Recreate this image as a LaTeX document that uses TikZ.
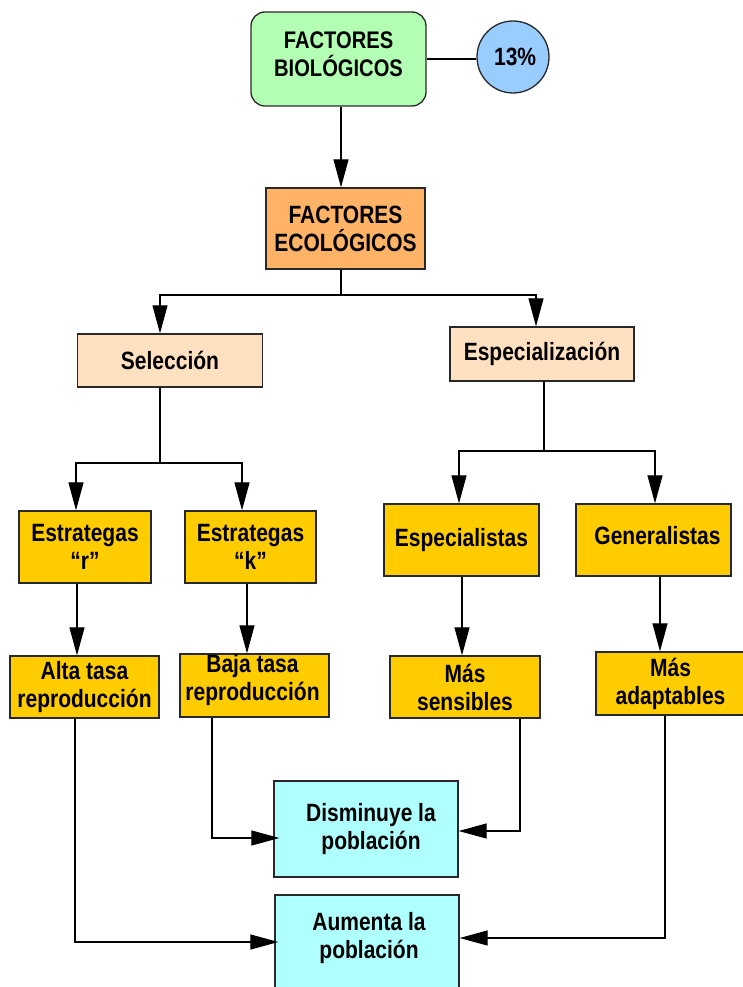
\documentclass[tikz,border=0pt]{standalone}
\usepackage{fontspec}
\newfontfamily\lblfont[FakeStretch=0.84]{Liberation Sans}
\usetikzlibrary{arrows.meta,calc}
\definecolor{cgreen}{RGB}{179,255,179}
\definecolor{cblue}{RGB}{153,204,255}
\definecolor{corange}{RGB}{255,179,102}
\definecolor{cpeach}{RGB}{255,224,192}
\definecolor{cgold}{RGB}{255,204,0}
\definecolor{ccyan}{RGB}{176,255,255}
\definecolor{cborder}{RGB}{40,40,40}
\tikzset{
  lbl/.style={inner sep=0pt, align=center, font=\lblfont\bfseries\fontsize{25}{28}\selectfont},
  box/.style={lbl, draw=cborder, line width=1.3pt},
  gbox/.style={box, fill=cgold},
  cbox/.style={box, fill=ccyan},
  pbox/.style={box, fill=cpeach},
  conn/.style={line width=1.2pt, draw=black},
  arr/.style={conn, -{Triangle[length=28pt,width=15pt]}},
}
\begin{document}
\begin{tikzpicture}[x=1pt,y=-1pt]
\useasboundingbox (0,0) rectangle (743,987);
% nodes
\node[box, fill=cgreen, rounded corners=14pt, minimum width=175pt, minimum height=94pt] (bio) at (338.5,59) {};
\node[lbl, font=\lblfont\bfseries\fontsize{24}{28}\selectfont] (biot) at ($(bio.center)+(0,-5)$) {FACTORES\\BIOLÓGICOS};
\node[box, fill=cblue, circle, minimum size=72pt, font=\lblfont\bfseries\fontsize{25}{26}\selectfont] (pct) at (513,57) {\,13\%};
\node[box, fill=corange, minimum width=159pt, minimum height=81pt] (eco) at (345.5,228.5) {FACTORES\\ECOLÓGICOS};
\node[pbox, minimum width=185pt, minimum height=53pt] (sel) at (170,360.5) {Selección};
\node[pbox, minimum width=184pt, minimum height=54pt] (esp) at (542,354) {Especialización};
\node[gbox, minimum width=132pt, minimum height=72pt] (er) at (85,547) {Estrategas\\“r”};
\node[gbox, minimum width=131pt, minimum height=72pt] (ek) at (250.5,547) {Estrategas\\“k”};
\node[gbox, minimum width=155pt, minimum height=72pt] (espl) at (461.5,540) {Especialistas};
\node[gbox, minimum width=155pt, minimum height=72pt] (gen) at (653.5,540) {};
\node[lbl] (gent) at ($(gen.center)+(4,-4)$) {Generalistas};
\node[gbox, minimum width=149pt, minimum height=62pt] (alta) at (84.5,687) {Alta tasa\\reproducción};
\node[gbox, minimum width=149pt, minimum height=63pt] (baja) at (254.5,685.5) {};
\node[lbl] (bajat) at ($(baja.center)+(-2,-5)$) {Baja tasa\\reproducción};
\node[gbox, minimum width=150pt, minimum height=62pt] (sens) at (465,687) {Más\\sensibles};
\node[gbox, minimum width=149pt, minimum height=63pt] (adap) at (670.5,683.5) {Más\\adaptables};
\node[cbox, minimum width=184pt, minimum height=96pt] (dism) at (366,829) {};
\node[lbl] (dismt) at ($(dism.center)+(5,0)$) {Disminuye la\\población};
\node[cbox, minimum width=184pt, minimum height=100pt] (aum) at (367,945) {};
\node[lbl] (aumt) at (369,938) {Aumenta la\\población};
% helper coordinates
\coordinate (xa) at (341,0);
\coordinate (ja) at (341,295);
\coordinate (xsel) at (160,0);
\coordinate (xesp) at (536,0);
\coordinate (js) at (160,463);
\coordinate (xer) at (76,0);
\coordinate (xek) at (242,0);
\coordinate (je) at (544,451);
\coordinate (xespl) at (459,0);
\coordinate (xgen) at (655,0);
\coordinate (xr2) at (77,0);
\coordinate (xk2) at (247,0);
\coordinate (xs2) at (462,0);
\coordinate (xg2) at (660,0);
\coordinate (yl) at (0,59);
% connectors
\draw[conn] (bio.east |- yl) -- (pct.west |- yl);
\draw[arr] (bio.south -| xa) -- (eco.north -| xa);
\draw[conn] (eco.south -| xa) -- (ja);
\draw[arr] (ja) -| (sel.north -| xsel);
\draw[arr] (ja) -| (esp.north -| xesp);
\draw[conn] (sel.south -| xsel) -- (js);
\draw[arr] (js) -| (er.north -| xer);
\draw[arr] (js) -| (ek.north -| xek);
\draw[conn] (esp.south -| je) -- (je);
\draw[arr] (je) -| (espl.north -| xespl);
\draw[arr] (je) -| (gen.north -| xgen);
\draw[arr] (er.south -| xr2) -- (alta.north -| xr2);
\draw[arr] (ek.south -| xk2) -- (baja.north -| xk2);
\draw[arr] (espl.south -| xs2) -- (sens.north -| xs2);
\draw[arr] (gen.south -| xg2) -- (adap.north -| xg2);
\draw[arr] (baja.south -| 212,0) |- ($(dism.west)+(6,9)$);
\draw[arr] (sens.south -| 520,0) |- ($(dism.east)+(0,2)$);
\draw[arr] (alta.south -| 75,0) |- ($(aum.west)+(4,-3)$);
\draw[arr] (adap.south -| 665,0) |- ($(aum.east)+(0,-7)$);
\end{tikzpicture}
\end{document}
